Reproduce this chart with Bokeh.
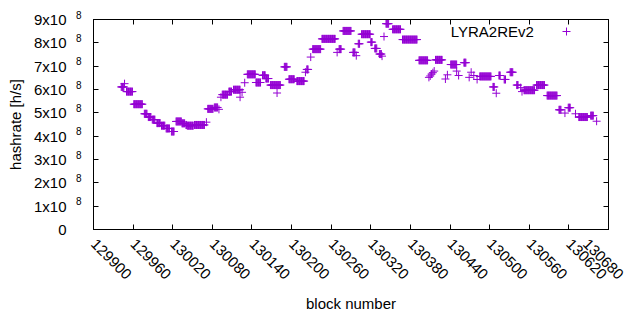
import math
from bokeh.plotting import figure
from bokeh.models import (Range1d, SingleIntervalTicker, FixedTicker, LinearAxis, CustomJSTickFormatter,
                          PrintfTickFormatter, Legend, LegendItem, Label, ColumnDataSource)
from bokeh.embed import file_html
from bokeh.resources import INLINE

# Hashrate per block, stored as runs of equal value: first block, last block, hashrate (x1e8 h/s)
run_first_block = [129942, 129947, 129950, 129961, 129977, 129983, 129989, 129996, 130003, 130010,
                   130018, 130025, 130034, 130040, 130042, 130053, 130071, 130073, 130083, 130090,
                   130093, 130095, 130105, 130112, 130122, 130125, 130129, 130133, 130146, 130156,
                   130161, 130168, 130178, 130189, 130196, 130208, 130221, 130223, 130229, 130232,
                   130246, 130269, 130272, 130278, 130293, 130298, 130301, 130306, 130320, 130326,
                   130333, 130337, 130340, 130343, 130353, 130368, 130393, 130408, 130410, 130412,
                   130414, 130416, 130418, 130433, 130436, 130441, 130450, 130453, 130461, 130469,
                   130472, 130476, 130481, 130485, 130505, 130510, 130514, 130522, 130531, 130541,
                   130547, 130549, 130552, 130571, 130587, 130605, 130614, 130619, 130630, 130635,
                   130653, 130662]
run_last_block = [129946, 129947, 129959, 129974, 129981, 129987, 129993, 130001, 130008, 130015,
                  130022, 130033, 130038, 130041, 130051, 130068, 130071, 130081, 130088, 130090,
                  130093, 130103, 130109, 130122, 130122, 130125, 130129, 130145, 130153, 130160,
                  130165, 130183, 130178, 130193, 130204, 130219, 130221, 130225, 130229, 130244,
                  130266, 130269, 130275, 130290, 130296, 130298, 130303, 130319, 130322, 130329,
                  130336, 130337, 130340, 130347, 130365, 130390, 130406, 130408, 130410, 130412,
                  130414, 130416, 130428, 130433, 130436, 130450, 130450, 130453, 130464, 130469,
                  130472, 130476, 130481, 130502, 130507, 130510, 130516, 130524, 130535, 130543,
                  130547, 130549, 130568, 130583, 130602, 130608, 130614, 130622, 130630, 130648,
                  130657, 130662]
run_hashrate_e8 = [6.11, 6.25, 5.91, 5.37, 4.96, 4.82, 4.71, 4.56, 4.45, 4.33,
                   4.20, 4.63, 4.55, 4.48, 4.45, 4.48, 4.60, 5.17, 5.23, 5.15,
                   5.67, 5.78, 5.91, 5.99, 5.67, 5.88, 6.29, 6.65, 6.30, 6.61,
                   6.47, 6.19, 5.85, 6.97, 6.44, 6.36, 6.74, 6.86, 7.39, 7.73,
                   8.17, 7.59, 7.73, 8.51, 7.59, 7.45, 7.96, 8.37, 8.03, 7.76,
                   7.52, 7.43, 8.27, 8.82, 8.58, 8.14, 7.25, 6.52, 6.58, 6.66,
                   6.72, 6.79, 7.27, 6.45, 6.63, 7.07, 6.79, 6.60, 7.15, 6.52,
                   6.74, 6.60, 6.43, 6.56, 6.11, 5.84, 6.60, 6.43, 6.74, 6.19,
                   6.08, 5.91, 5.97, 6.19, 5.74, 5.13, 4.99, 5.22, 4.96, 4.82,
                   4.88, 4.64]

series_name = "LYRA2REv2"
x_ticks_step = 60
y_ticks_step = 1e8
y_tick_mantissas = [1, 2, 3, 4, 5, 6, 7, 8, 9]
y_tick_exponent = "8"

blocks, hashrate = [], []
for b0, b1, h in zip(run_first_block, run_last_block, run_hashrate_e8):
    for b in range(b0, b1 + 1):
        blocks.append(b)
        hashrate.append(h * 1e8)

FONT = "Liberation Sans"
FS = "15px"
COLOR = "#9400d3"

p = figure(width=624, height=314, output_backend="svg", toolbar_location=None,
           x_range=Range1d(129900, 130680), y_range=Range1d(0, 9e8),
           min_border_left=93, min_border_right=16, min_border_top=19, min_border_bottom=76,
           x_axis_label="block number")
p.xgrid.visible = False
p.ygrid.visible = False
p.outline_line_color = "black"
p.outline_line_width = 1
p.background_fill_color = "white"
p.border_fill_color = "white"

src = ColumnDataSource(dict(x=blocks, y=hashrate))
r = p.scatter("x", "y", source=src, marker="cross", size=8, line_color=COLOR, line_width=1)

xt = SingleIntervalTicker(interval=x_ticks_step, num_minor_ticks=0)
yt = SingleIntervalTicker(interval=y_ticks_step, num_minor_ticks=0)
empty = CustomJSTickFormatter(code="return '';")

# bottom axis
xa = p.xaxis[0]
xa.ticker = xt
xa.formatter = PrintfTickFormatter(format="%d")
xa.major_label_orientation = -math.pi / 4
xa.major_label_standoff = 12
xa.axis_label_standoff = 8
xa.major_label_text_font_size = FS

# left axis: tick marks only (next to the frame)
ya = p.yaxis[0]
ya.ticker = yt
ya.formatter = empty
ya.major_label_standoff = 0
ya.major_label_text_font_size = "1px"

for ax in (xa, ya):
    ax.major_tick_in = 5
    ax.major_tick_out = 0
    ax.minor_tick_line_color = None
    ax.axis_line_color = "black"
    ax.major_tick_line_color = "black"
    ax.major_label_text_color = "black"
    ax.major_label_text_font = FONT
    ax.axis_label_text_font = FONT
    ax.axis_label_text_font_size = FS
    ax.axis_label_text_font_style = "normal"
    ax.axis_label_text_color = "black"

# exponent part of the y tick labels: a two-line label whose first line sits above the tick
exp_axis = LinearAxis(
    ticker=FixedTicker(ticks=[m * y_ticks_step - 0.1e8 for m in y_tick_mantissas]),
    formatter=CustomJSTickFormatter(args=dict(e=y_tick_exponent), code="return e + '\\n';"),
    axis_line_color=None, major_tick_line_color=None, minor_tick_line_color=None,
    major_tick_in=0, major_tick_out=0, major_label_standoff=12,
    major_label_text_font=FONT, major_label_text_font_size="10px",
    major_label_text_color="black")
p.add_layout(exp_axis, "left")

# mantissa part of the y tick labels + axis title
man_axis = LinearAxis(
    ticker=yt,
    formatter=CustomJSTickFormatter(
        code="if (Math.abs(tick) < 1) return '0'; return (tick/1e8).toFixed(0) + 'x10';"),
    axis_line_color=None, major_tick_line_color=None, minor_tick_line_color=None,
    major_tick_in=0, major_tick_out=0, major_label_standoff=6,
    major_label_text_font=FONT, major_label_text_font_size=FS, major_label_text_color="black",
    axis_label="hashrate [h/s]", axis_label_standoff=7, axis_label_text_font=FONT,
    axis_label_text_font_size=FS, axis_label_text_font_style="normal",
    axis_label_text_color="black")
p.add_layout(man_axis, "left")

# mirrored ticks on the right and top
for loc, tk in (("right", yt), ("above", xt)):
    ax = LinearAxis(ticker=tk, formatter=empty, major_tick_in=5, major_tick_out=0,
                    minor_tick_line_color=None, axis_line_color="black",
                    major_tick_line_color="black", major_label_standoff=0,
                    major_label_text_font_size="1px")
    p.add_layout(ax, loc)

legend = Legend(items=[LegendItem(label=" ", renderers=[r])], location=(463, 188),
                padding=0, margin=0, spacing=0, label_standoff=0,
                glyph_width=20, glyph_height=20, border_line_color=None,
                background_fill_alpha=0, label_text_font_size="4px")
p.add_layout(legend)

p.add_layout(Label(x=130567, y=8.47e8, text=series_name, text_align="right",
                   text_baseline="middle", text_font=FONT, text_font_size=FS,
                   text_color="black"))

open("out.html", "w").write(file_html(p, INLINE))
